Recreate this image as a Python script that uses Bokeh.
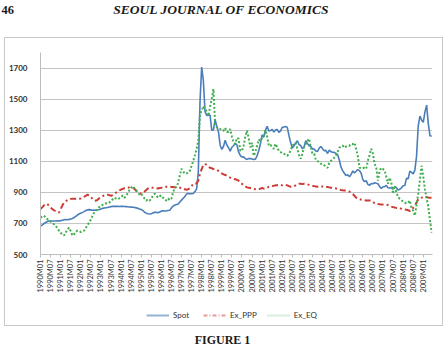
import math
from bokeh.plotting import figure
from bokeh.layouts import column, row
from bokeh.models import (Range1d, FixedTicker, Legend, LegendItem, Spacer)
from bokeh.core.properties import value
from bokeh.embed import file_html
from bokeh.resources import INLINE

# month index: 0 = 1990M01 ... 233 = 2009M06
months = list(range(234))

spot = [
    683, 689, 698, 706, 711, 715, 716, 716, 716, 716, 717, 716,
    718, 721, 724, 725, 724, 726, 729, 732, 738, 745, 754, 761,
    766, 771, 776, 783, 787, 789, 787, 785, 786, 785, 786, 789,
    793, 797, 799, 801, 803, 806, 808, 810, 810, 810, 810, 809,
    810, 810, 809, 808, 807, 806, 805, 804, 803, 800, 797, 792,
    789, 783, 772, 766, 762, 761, 762, 768, 771, 772, 769, 773,
    780, 781, 780, 781, 783, 785, 800, 812, 818, 822, 825, 838,
    850, 862, 872, 890, 893, 891, 891, 893, 905, 922, 1030, 1480,
    1706, 1620, 1420, 1395, 1396, 1398, 1300, 1302, 1368, 1325, 1290, 1205,
    1176, 1195, 1235, 1205, 1188, 1165, 1190, 1200, 1215, 1205, 1160, 1138,
    1127, 1128, 1117, 1112, 1118, 1117, 1115, 1112, 1113, 1135, 1168, 1212,
    1270, 1255, 1300, 1325, 1295, 1298, 1305, 1288, 1302, 1305, 1286, 1296,
    1318, 1320, 1324, 1318, 1265, 1220, 1185, 1200, 1218, 1232, 1208, 1200,
    1180, 1192, 1232, 1215, 1200, 1195, 1180, 1178, 1166, 1163, 1185, 1195,
    1180, 1168, 1170, 1150, 1172, 1162, 1158, 1157, 1150, 1142, 1108, 1062,
    1040, 1023, 1008, 1013, 1000, 1014, 1038, 1025, 1036, 1046, 1040, 1023,
    982, 969, 975, 951, 945, 956, 955, 962, 958, 955, 938, 925,
    936, 937, 945, 930, 928, 929, 921, 936, 930, 915, 920, 929,
    942, 944, 990, 987, 1037, 1029, 1019, 1043, 1133, 1327, 1391, 1366,
    1350, 1418, 1461, 1341, 1265, 1261,
]

ex_ppp = [
    792, 803, 815, 825, 825, 815, 803, 792, 785, 778, 773, 770,
    792, 815, 833, 842, 850, 855, 858, 859, 858, 858, 858, 858,
    860, 866, 872, 878, 885, 880, 870, 858, 848, 846, 852, 862,
    870, 876, 880, 884, 885, 882, 878, 882, 890, 898, 905, 912,
    918, 922, 926, 928, 930, 932, 933, 930, 922, 912, 902, 895,
    891, 895, 905, 915, 925, 930, 930, 930, 928, 926, 925, 928,
    930, 933, 936, 936, 936, 936, 935, 934, 932, 931, 930, 930,
    928, 925, 920, 917, 920, 928, 940, 955, 955, 958, 975, 1020,
    1050, 1075, 1084, 1075, 1065, 1058, 1055, 1050, 1048, 1045, 1038, 1030,
    1022, 1016, 1012, 1007, 1000, 995, 990, 987, 984, 981, 975, 965,
    955, 945, 938, 932, 930, 928, 925, 922, 920, 918, 920, 924,
    928, 924, 926, 930, 936, 938, 940, 942, 945, 946, 948, 949,
    945, 949, 948, 945, 940, 936, 935, 940, 945, 950, 955, 955,
    953, 955, 955, 952, 948, 945, 942, 940, 938, 936, 936, 938,
    938, 936, 935, 934, 932, 930, 929, 927, 925, 922, 918, 915,
    913, 912, 911, 910, 905, 898, 890, 878, 866, 858, 856, 853,
    852, 850, 848, 848, 847, 847, 840, 830, 827, 825, 823, 822,
    821, 821, 820, 818, 812, 808, 805, 802, 800, 800, 797, 795,
    790, 789, 788, 785, 780, 785, 800, 815, 835, 855, 862, 866,
    868, 872, 870, 866, 865, 866,
]

ex_eq = [
    737, 745, 750, 740, 728, 720, 712, 705, 695, 686, 670, 654,
    640, 630, 622, 640, 660, 673, 650, 622, 630, 645, 654, 650,
    645, 650, 654, 670, 690, 705, 725, 750, 770, 782, 795, 805,
    814, 820, 826, 830, 828, 834, 845, 855, 866, 860, 855, 862,
    870, 880, 866, 875, 895, 915, 930, 940, 925, 910, 898, 885,
    891, 875, 860, 847, 855, 847, 860, 880, 891, 880, 866, 875,
    880, 865, 855, 847, 860, 850, 860, 900, 930, 935, 960, 1010,
    1052, 1035, 1020, 1022, 1026, 1040, 1070, 1103, 1140, 1180, 1232, 1405,
    1424, 1456, 1440, 1420, 1392, 1450, 1500, 1565, 1340, 1320, 1310, 1308,
    1300, 1296, 1315, 1290, 1289, 1308, 1260, 1219, 1212, 1250, 1245, 1167,
    1167, 1200, 1260, 1296, 1250, 1190, 1219, 1135, 1160, 1200, 1240, 1230,
    1250, 1264, 1300, 1260, 1200, 1205, 1190, 1180, 1212, 1190, 1167, 1160,
    1150, 1148, 1140, 1135, 1150, 1167, 1200, 1210, 1219, 1180, 1140, 1116,
    1150, 1190, 1212, 1230, 1245, 1190, 1148, 1148, 1110, 1103, 1090, 1084,
    1084, 1075, 1065, 1058, 1090, 1103, 1115, 1123, 1140, 1160, 1187, 1195,
    1200, 1187, 1195, 1200, 1200, 1212, 1210, 1219, 1180, 1135, 1060, 1052,
    1055, 1058, 1052, 1103, 1140, 1180, 1150, 1084, 1058, 975, 1039, 1058,
    1050, 1039, 1000, 955, 994, 960, 891, 943, 900, 870, 859, 850,
    840, 835, 827, 835, 847, 800, 780, 750, 820, 891, 980, 1071,
    1000, 920, 860, 808, 720, 641,
]

tick_positions = list(range(0, 229, 6))
tick_labels = [
    "1990M01", "1990M07", "1991M01", "1991M07", "1992M01", "1992M07",
    "1993M01", "1993M07", "1994M01", "1994M07", "1995M01", "1995M07",
    "1996M01", "1996M07", "1997M01", "1997M07", "1998M01", "1998M07",
    "1999M01", "1999M07", "2000M01", "2000M07", "2001M01", "2001M07",
    "2002M01", "2002M07", "2003M01", "2003M07", "2004M01", "2004M07",
    "2005M01", "2005M07", "2006M01", "2006M07", "2007M01", "2007M07",
    "2008M01", "2008M07", "2009M01",
]
y_ticks = [500, 700, 900, 1100, 1300, 1500, 1700]
series_names = ["Spot", "Ex_PPP", "Ex_EQ"]

SERIF = "Liberation Serif"
SANS = "Lato"


def blank_fig(w, h, x_range=None, y_range=None):
    f = figure(width=w, height=h, output_backend="svg", toolbar_location=None,
               x_range=x_range or Range1d(0, w), y_range=y_range or Range1d(h, 0),
               x_axis_type=None, y_axis_type=None,
               min_border_left=0, min_border_right=0,
               min_border_top=0, min_border_bottom=0)
    f.outline_line_color = None
    f.background_fill_color = "white"
    f.border_fill_color = "white"
    return f


# ---- page header -------------------------------------------------------
header = blank_fig(448, 37)
header.text(x=[221], y=[9], text=["SEOUL JOURNAL OF ECONOMICS"],
            text_font=value(SERIF), text_font_style="bold italic",
            text_font_size="13.5px", text_align="center",
            text_baseline="middle", text_color="#1a1a1a")
header.text(x=[1], y=[9], text=["46"], text_font=value(SERIF),
            text_font_style="bold", text_font_size="12.5px",
            text_align="left", text_baseline="middle", text_color="#1a1a1a")

# ---- main chart ----------------------------------------------------------
p = figure(width=437, height=262, output_backend="svg", toolbar_location=None,
           x_range=Range1d(0, 233.5), y_range=Range1d(500, 1800),
           min_border_left=35, min_border_right=10, min_border_top=14,
           min_border_bottom=46)
p.outline_line_color = None
p.background_fill_color = "white"
p.border_fill_color = "white"

p.xgrid.grid_line_color = None
p.ygrid.ticker = FixedTicker(ticks=y_ticks)
p.ygrid.grid_line_color = "#c4c4c4"
p.ygrid.grid_line_width = 1

p.xaxis.ticker = FixedTicker(ticks=tick_positions)
p.xaxis.major_label_overrides = {pos: lab for pos, lab in zip(tick_positions, tick_labels)}
p.xaxis.major_label_orientation = math.pi / 2
p.xaxis.major_label_text_font = SANS
p.xaxis.major_label_text_font_size = "7.5px"
p.xaxis.major_label_text_color = "#333333"
p.xaxis.major_label_standoff = 2
p.xaxis.major_tick_in = 0
p.xaxis.major_tick_out = 3
p.xaxis.minor_tick_line_color = None
p.xaxis.axis_line_color = "#bdbdbd"
p.xaxis.major_tick_line_color = "#bdbdbd"

p.yaxis.ticker = FixedTicker(ticks=y_ticks)
p.yaxis.major_label_text_font = SANS
p.yaxis.major_label_text_font_size = "8px"
p.yaxis.major_label_text_font_style = "bold"
p.yaxis.major_label_text_color = "#333333"
p.yaxis.major_label_standoff = 7
p.yaxis.major_tick_line_color = None
p.yaxis.minor_tick_line_color = None
p.yaxis.axis_line_color = "#bdbdbd"

p.line(months, spot, line_color="#4a7ebb", line_width=1.6)
p.line(months, ex_ppp, line_color="#cc3b34", line_width=2, line_dash="6 3 2 3")
p.line(months, ex_eq, line_color="#3fae4c", line_width=2, line_dash="2 2")

# ---- legend strip (inside the chart box) -------------------------------
# the legend strip's y range lies far below the data, so these lines are
# clipped away and only serve as legend samples
leg = blank_fig(437, 25, x_range=Range1d(0, 437), y_range=Range1d(0, 25))
r1 = leg.line(months, spot, line_color="#95b3d3", line_width=2)
r2 = leg.line(months, ex_ppp, line_color="#e79a9a", line_width=2, line_dash="4 2 1 2")
r3 = leg.line(months, ex_eq, line_color="#b5dcbb", line_width=2, line_dash="1 1")
legend = Legend(items=[LegendItem(label=series_names[0], renderers=[r1]),
                       LegendItem(label=series_names[1], renderers=[r2]),
                       LegendItem(label=series_names[2], renderers=[r3])],
                orientation="horizontal", location=(106, 5),
                padding=0, margin=0, spacing=10, glyph_width=23, glyph_height=10,
                label_standoff=4, label_height=10, label_text_font=SANS,
                label_text_font_size="8px", label_text_color="#333333",
                border_line_color=None, background_fill_alpha=0)
leg.add_layout(legend, "center")

box = column(p, leg, spacing=0, styles={"border": "1px solid #c8c8c8"})
middle = row(Spacer(width=4, height=10), box, spacing=0)

# ---- caption -------------------------------------------------------------
caption = blank_fig(448, 20)
caption.text(x=[222], y=[13], text=["FIGURE 1"], text_font=value(SERIF),
             text_font_style="bold", text_font_size="12px",
             text_align="center", text_baseline="middle", text_color="#1a1a1a")

page = column(header, middle, caption, spacing=0)

open("out.html", "w").write(file_html(page, INLINE))
